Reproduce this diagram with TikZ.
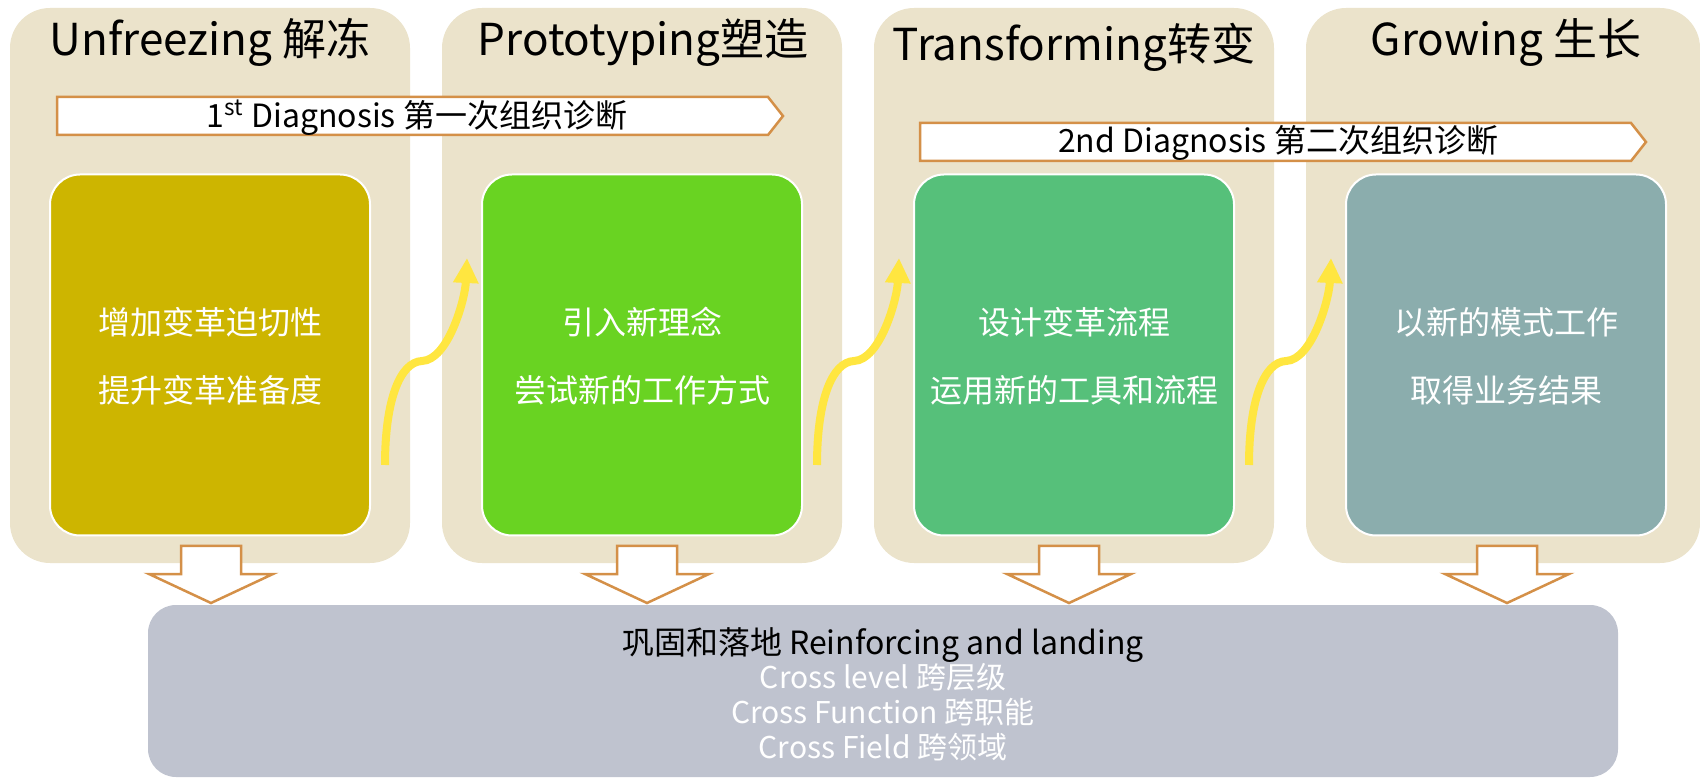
\documentclass[tikz,border=0pt]{standalone}
\usepackage{fontspec}
\setmainfont{Noto Sans CJK SC}
\usetikzlibrary{arrows.meta}
\definecolor{tanc}{HTML}{EBE3CB}
\definecolor{olivec}{HTML}{CDB500}
\definecolor{limec}{HTML}{69D322}
\definecolor{greenc}{HTML}{56C07A}
\definecolor{tealc}{HTML}{8BADAD}
\definecolor{grayc}{HTML}{BFC3CF}
\definecolor{orangec}{HTML}{D49048}
\definecolor{yellowc}{HTML}{FFE640}
\begin{document}
\begin{tikzpicture}[x=0.5pt,y=-0.5pt,
  colbox/.style={fill=tanc, draw=none, rounded corners=20pt, minimum height=277.5pt, inner sep=0pt},
  innerbox/.style={fill=#1, draw=white, line width=1pt, rounded corners=15pt, minimum width=160pt, minimum height=180.5pt, inner sep=0pt},
  titletext/.style={anchor=base, inner sep=0pt, font=\fontsize{22pt}{26pt}\selectfont},
  itext/.style={inner sep=0pt, text=white, font=\fontsize{16pt}{19pt}\selectfont},
  bannerbox/.style={draw=orangec, fill=white, line width=1.25pt, line join=miter},
  btext/.style={anchor=base, inner sep=0pt, font=\fontsize{16pt}{19pt}\selectfont},
  downarrow/.style={draw=orangec, fill=white, line width=1.25pt, line join=miter},
  growarrow/.style={draw=yellowc, line width=4pt, -{Triangle[length=12.5pt,width=12pt]}},
  bottombox/.style={fill=grayc, draw=none, rounded corners=14pt, minimum width=735pt, minimum height=86pt, inner sep=0pt},
  bline/.style={anchor=base, inner sep=0pt, font=\fontsize{15pt}{18pt}\selectfont, text=white},
]
\useasboundingbox (0,0) rectangle (1700,779);

% columns
\node[colbox, minimum width=200pt] (col1) at (210,285.5) {};
\node[colbox, minimum width=200pt] (col2) at (642,285.5) {};
\node[colbox, minimum width=200pt] (col3) at (1074,285.5) {};
\node[colbox, minimum width=197pt] (col4) at (1503,285.5) {};

% titles
\node[titletext] (t1) at (210,56) {Unfreezing 解冻};
\node[titletext] (t2) at (643,56) {Prototyping塑造};
\node[titletext] (t3) at (1074,61) {Transforming转变};
\node[titletext] (t4) at (1506,56) {Growing 生长};

% banners
\draw[bannerbox] (57,97) -- (768,97) -- (783,116) -- (768,135) -- (57,135) -- cycle;
\node[btext] (d1) at (417,128) {1\textsuperscript{st} Diagnosis 第一次组织诊断};
\draw[bannerbox] (920,123) -- (1631,123) -- (1646,142) -- (1631,161) -- (920,161) -- cycle;
\node[btext] (d2) at (1278,153) {2nd Diagnosis 第二次组织诊断};

% inner boxes
\node[innerbox=olivec] (b1) at (210,355) {};
\node[innerbox=limec] (b2) at (642,355) {};
\node[innerbox=greenc] (b3) at (1074,355) {};
\node[innerbox=tealc] (b4) at (1506,355) {};

\node[itext] (b1a) at (210,322) {增加变革迫切性};
\node[itext] (b1b) at (210,390) {提升变革准备度};
\node[itext] (b2a) at (642,322) {引入新理念};
\node[itext] (b2b) at (642,390) {尝试新的工作方式};
\node[itext] (b3a) at (1074,322) {设计变革流程};
\node[itext] (b3b) at (1074,390) {运用新的工具和流程};
\node[itext] (b4a) at (1506,322) {以新的模式工作};
\node[itext] (b4b) at (1506,390) {取得业务结果};

% growth arrows
\foreach \L in {10,442,874}{
  \draw[growarrow] (\L+375,465) .. controls (\L+375,400) and (\L+390,362) .. (\L+412,361)
     .. controls (\L+438,360) and (\L+455,300) .. (\L+457,258);
}

% bottom box
\node[bottombox] (base) at (883,691) {};
\node[anchor=base, inner sep=0pt, font=\fontsize{16pt}{19pt}\selectfont] (r0) at (883,654) {巩固和落地 Reinforcing and landing};
\node[bline] (r1) at (883,688) {Cross level 跨层级};
\node[bline] (r2) at (883,723) {Cross Function 跨职能};
\node[bline] (r3) at (883,758) {Cross Field 跨领域};

% down arrows
\foreach \c in {211,647,1069,1507}{
  \coordinate (a\c) at (\c,546);
  \draw[downarrow] (a\c) ++(-30,0) -- ++(60,0) -- ++(0,28) -- ++(32,0) -- ++(-62,29) -- ++(-62,-29) -- ++(32,0) -- cycle;
}
\end{tikzpicture}
\end{document}
